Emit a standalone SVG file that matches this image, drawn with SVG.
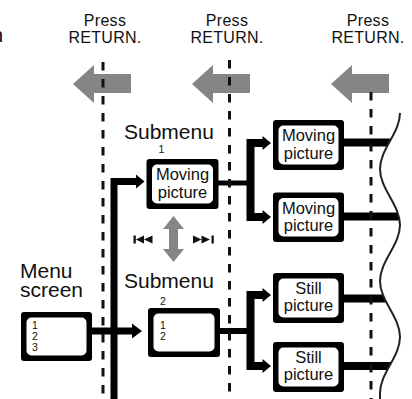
<svg xmlns="http://www.w3.org/2000/svg" width="412" height="399" viewBox="0 0 412 399">
<style>
text{font-family:"Liberation Sans",Arial,sans-serif;fill:#111}
.press{font-size:16px;text-anchor:middle;letter-spacing:0.3px}
.big{font-size:21px}
.bx{font-size:16.5px;text-anchor:middle}
.num{font-size:10.5px}
.dash{stroke:#111;stroke-width:3;stroke-dasharray:8.5 8.5;fill:none}
.conn{stroke:#000;fill:none;stroke-linejoin:miter}
.gray{fill:#858585}
.outer{fill:#000}
.inner{fill:#fff}
.wave{stroke:#222;stroke-width:2;fill:none}
</style>
<defs>
<path id="garrow" d="M0,0 L21,-19 L21,-10 L58,-10 L58,9 L21,9 L21,19 Z"/>
<clipPath id="wclip"><path d="M0,0 H400 V113 C400,133 380,149 380,169 C380,189 400,205 400,225 C400,245 380,261 380,281 C380,301 400,317 400,337 C400,357 380,373 380,393 L380,399 H0 Z"/></clipPath>
</defs>

<g id="partial-label"><text class="big" x="-8.5" y="41.5">n</text></g>

<g id="return-labels">
<text class="press" x="105" y="26">Press</text>
<text class="press" x="105" y="43">RETURN.</text>
<text class="press" x="227" y="26">Press</text>
<text class="press" x="227" y="43">RETURN.</text>
<text class="press" x="368" y="26">Press</text>
<text class="press" x="368" y="43">RETURN.</text>
</g>

<g id="back-arrows" class="gray">
<use href="#garrow" x="73" y="84"/>
<use href="#garrow" x="192" y="84"/>
<use href="#garrow" x="331" y="84"/>
</g>

<g id="swap-arrow">
<path class="gray" d="M173.5,216 L184,229 L178,229 L178,249 L184,249 L173.5,262 L163,249 L169,249 L169,229 L163,229 Z"/>
<path d="M133.5,235.5 H135.8 V243.5 H133.5 Z M135.8,239.5 L144,235.5 V243.5 Z M144,239.5 L152.5,235.5 V243.5 Z" fill="#111"/>
<path d="M193,235.5 L201.5,239.5 L193,243.5 Z M201.5,235.5 L210,239.5 L201.5,243.5 Z M211.5,235.5 H213.8 V243.5 H211.5 Z" fill="#111"/>
</g>

<g id="connectors">
<path class="conn" stroke-width="7" d="M114,400 V181.5 H137.5"/>
<polygon points="136,174.5 144.5,181.5 136,188.5"/>
<path class="conn" stroke-width="7" d="M92,331 H133"/>
<polygon points="132,323.5 142,331 132,338.5"/>
<path class="conn" stroke-width="5" d="M218,183 H251"/>
<path class="conn" stroke-width="8" d="M264,143 H250.5 V217 H264"/>
<polygon points="262.5,136 271,143 262.5,150"/>
<polygon points="262.5,210 271,217 262.5,224"/>
<path class="conn" stroke-width="6" d="M220,331 H251"/>
<path class="conn" stroke-width="8" d="M264,295 H250.5 V366 H264"/>
<polygon points="262.5,288 271,295 262.5,302"/>
<polygon points="262.5,359 271,366 262.5,373"/>
<g clip-path="url(#wclip)">
<path class="conn" stroke-width="8" d="M343,142.5 H410 M343,216.5 H410 M343,298.5 H410 M343,366 H410"/>
</g>
<path class="wave" d="M400,113 C400,133 380,149 380,169 C380,189 400,205 400,225 C400,245 380,261 380,281 C380,301 400,317 400,337 C400,357 380,373 380,393 L380,400"/>
</g>

<g id="dashed-lines">
<line class="dash" x1="103" y1="62" x2="103" y2="399"/>
<line class="dash" x1="229.5" y1="60" x2="229.5" y2="399"/>
<line class="dash" x1="371" y1="92" x2="371" y2="399"/>
</g>

<g id="menu-screen">
<text class="big" x="20" y="278">Menu</text>
<text class="big" x="20" y="297">screen</text>
<rect class="outer" x="21" y="312" width="71" height="49" rx="3"/>
<rect class="inner" x="26.5" y="317.5" width="60" height="38" rx="5"/>
<text class="num" x="32" y="329">1</text>
<text class="num" x="32" y="340">2</text>
<text class="num" x="32" y="351">3</text>
</g>

<g id="submenu-1">
<text class="big" x="124" y="139">Submenu</text>
<text class="num" x="158.5" y="153">1</text>
<rect class="outer" x="146.5" y="159" width="72" height="50" rx="3"/>
<rect class="inner" x="152" y="164.5" width="61" height="39" rx="5"/>
<text class="bx" x="182.5" y="180">Moving</text>
<text class="bx" x="182.5" y="198">picture</text>
</g>

<g id="submenu-2">
<text class="big" x="124" y="288">Submenu</text>
<text class="num" x="160" y="305">2</text>
<rect class="outer" x="148" y="308" width="72" height="49" rx="3"/>
<rect class="inner" x="153.5" y="313.5" width="61" height="38" rx="5"/>
<text class="num" x="160" y="328.5">1</text>
<text class="num" x="160" y="340">2</text>
</g>

<g id="moving-1">
<rect class="outer" x="273" y="120" width="71" height="50" rx="3"/>
<rect class="inner" x="278.5" y="125.5" width="60" height="39" rx="5"/>
<text class="bx" x="308.5" y="141">Moving</text>
<text class="bx" x="308.5" y="158.5">picture</text>
</g>

<g id="moving-2">
<rect class="outer" x="273" y="192.5" width="71" height="49.5" rx="3"/>
<rect class="inner" x="278.5" y="198" width="60" height="38.5" rx="5"/>
<text class="bx" x="308.5" y="213.5">Moving</text>
<text class="bx" x="308.5" y="231">picture</text>
</g>

<g id="still-1">
<rect class="outer" x="273" y="273" width="71" height="50" rx="3"/>
<rect class="inner" x="278.5" y="278.5" width="60" height="39" rx="5"/>
<text class="bx" x="308.5" y="293.5">Still</text>
<text class="bx" x="308.5" y="311">picture</text>
</g>

<g id="still-2">
<rect class="outer" x="273" y="342" width="71" height="50" rx="3"/>
<rect class="inner" x="278.5" y="347.5" width="60" height="39" rx="5"/>
<text class="bx" x="308.5" y="362.5">Still</text>
<text class="bx" x="308.5" y="380">picture</text>
</g>
</svg>
